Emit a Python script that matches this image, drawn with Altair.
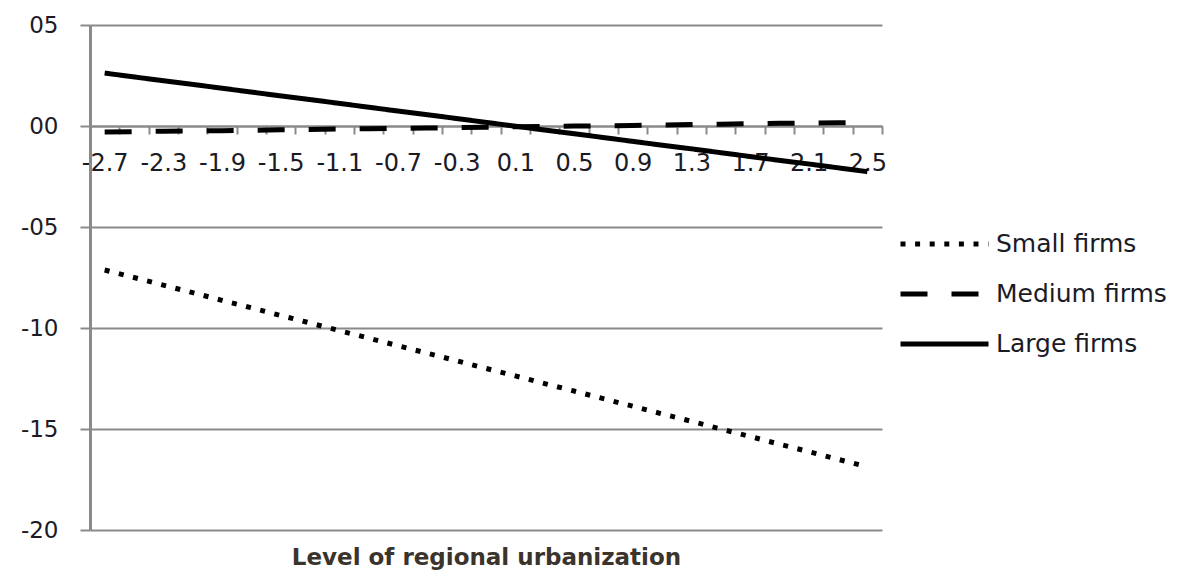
import altair as alt
import pandas as pd

X_VALUES = ["-2.7", "-2.5", "-2.3", "-2.1", "-1.9", "-1.7", "-1.5", "-1.3", "-1.1",
            "-0.9", "-0.7", "-0.5", "-0.3", "-0.1", "0.1", "0.3", "0.5", "0.7",
            "0.9", "1.1", "1.3", "1.5", "1.7", "1.9", "2.1", "2.3", "2.5"]
X_LABELS = ["-2.7", "-2.3", "-1.9", "-1.5", "-1.1", "-0.7", "-0.3", "0.1",
            "0.5", "0.9", "1.3", "1.7", "2.1", "2.5"]

SERIES = ["Small firms", "Medium firms", "Large firms"]

SMALL = [-7.13, -7.50, -7.88, -8.25, -8.63, -9.00, -9.38, -9.75, -10.13, -10.50,
         -10.88, -11.25, -11.62, -12.00, -12.37, -12.75, -13.12, -13.50, -13.87,
         -14.25, -14.62, -15.00, -15.37, -15.75, -16.12, -16.50, -16.87]
MEDIUM = [-0.30, -0.28, -0.26, -0.24, -0.23, -0.21, -0.19, -0.17, -0.15, -0.13,
          -0.11, -0.10, -0.08, -0.06, -0.04, -0.02, 0.00, 0.01, 0.03, 0.05,
          0.07, 0.09, 0.11, 0.13, 0.14, 0.16, 0.18]
LARGE = [2.62, 2.43, 2.24, 2.06, 1.87, 1.68, 1.49, 1.31, 1.12, 0.93, 0.74, 0.56,
         0.37, 0.18, -0.01, -0.20, -0.38, -0.57, -0.76, -0.95, -1.13, -1.32,
         -1.51, -1.70, -1.88, -2.07, -2.26]

Y_TICKS = [-20, -15, -10, -5, 0, 5]
DASHES = [[5, 9.6], [27, 24], [1, 0]]

rows = []
for name, vals in zip(SERIES, [SMALL, MEDIUM, LARGE]):
    for xv, yv in zip(X_VALUES, vals):
        rows.append({"x": xv, "y": yv, "series": name})
df = pd.DataFrame(rows)

W, H = 792, 505
Y0_PIX = H * (5 - 0) / 25  # pixel of y=0 from top

label_list = "[" + ",".join("'" + s + "'" for s in X_LABELS) + "]"

FONT = "DejaVu Sans"
GRID = "#8a8a8a"
TXT = "#1b1b26"

chart = alt.Chart(df).mark_line(color="black", strokeWidth=5, strokeCap="butt").encode(
    x=alt.X("x:O", sort=X_VALUES, bandPosition=0.5,
            scale=alt.Scale(type="band", paddingInner=0, paddingOuter=0),
            axis=alt.Axis(
                title="Level of regional urbanization",
                titleFont=FONT, titleFontSize=23, titleFontWeight="bold",
                titleColor="#3a342d", titleY=431, titleBaseline="middle",
                offset=-(H - Y0_PIX),
                labelAngle=0, labelFont=FONT, labelFontSize=24, labelColor=TXT,
                labelExpr="indexof(" + label_list + ", datum.label) >= 0 ? datum.label : ''",
                labelOverlap=False, labelBound=False, labelPadding=17,
                tickBand="extent", tickSize=8, tickColor=GRID, tickWidth=2,
                domainColor=GRID, domainWidth=2, grid=False)),
    y=alt.Y("y:Q", scale=alt.Scale(domain=[-20, 5], nice=False, zero=False),
            axis=alt.Axis(
                title=None, values=Y_TICKS,
                labelExpr="datum.value < 0 ? '-' + format(abs(datum.value), '02d') : format(datum.value, '02d')",
                labelFont=FONT, labelFontSize=23, labelColor=TXT, labelPadding=22,
                tickSize=10, tickColor=GRID, tickWidth=2,
                domainColor=GRID, domainWidth=3,
                grid=True, gridColor=GRID, gridWidth=2)),
    strokeDash=alt.StrokeDash(
        "series:N", sort=SERIES,
        scale=alt.Scale(domain=SERIES, range=DASHES),
        legend=alt.Legend(
            title=None, orient="none", legendX=808, legendY=203,
            symbolType="stroke", symbolSize=7744, symbolStrokeWidth=5,
            symbolStrokeColor="black", clipHeight=32, rowPadding=18,
            labelFont=FONT, labelFontSize=25, labelColor=TXT, labelOffset=5,
            labelLimit=400)),
).properties(
    width=W, height=H,
    autosize=alt.AutoSizeParams(type="none"),
    padding={"left": 82, "top": 17, "right": 305, "bottom": 46},
).configure_view(stroke=None)

chart.save("out.html", embed_options={"renderer": "svg", "actions": False})
